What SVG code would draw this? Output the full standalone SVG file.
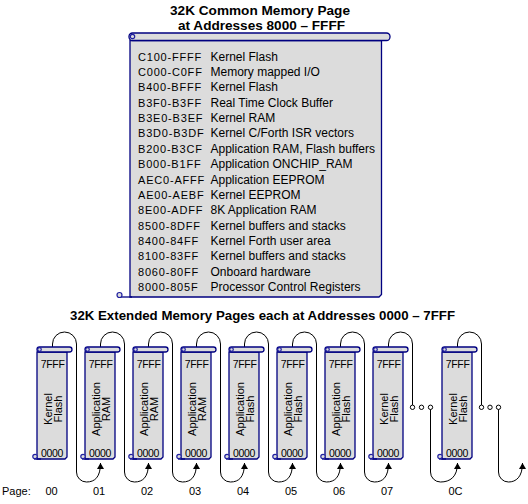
<svg xmlns="http://www.w3.org/2000/svg" xmlns:xlink="http://www.w3.org/1999/xlink" width="528" height="504" viewBox="0 0 528 504">
<style>
.title{font-family:"Liberation Sans",Arial,sans-serif;font-weight:bold;font-size:13.5px;fill:#000;text-anchor:middle}
.addr{font-family:"Liberation Sans",Arial,sans-serif;font-size:11px;letter-spacing:0.8px;fill:#000}
.desc{font-family:"Liberation Sans",Arial,sans-serif;font-size:12px;fill:#000}
.hex{font-family:"Liberation Sans",Arial,sans-serif;font-size:10.5px;letter-spacing:-0.3px;fill:#000}
.vt{font-family:"Liberation Sans",Arial,sans-serif;font-size:11px;fill:#000;text-anchor:middle}
.lbl{font-family:"Liberation Sans",Arial,sans-serif;font-size:11px;fill:#000}
.lblc{font-family:"Liberation Sans",Arial,sans-serif;font-size:11px;fill:#000;text-anchor:middle}
.scr{fill:#dcdcdc;stroke:#000080;stroke-width:1.3}
.curl{fill:#dcdcdc;stroke:#2020a0;stroke-width:1.2}
.conn{fill:none;stroke:#000;stroke-width:1}
.dot{fill:#fff;stroke:#000;stroke-width:1}
</style>
<defs>
<marker id="arr" markerWidth="8" markerHeight="8" refX="6" refY="3.5" orient="auto" markerUnits="userSpaceOnUse">
<path d="M0,0 L6,3.5 L0,7 Z" fill="#000"/>
</marker>
<g id="page">
<path class="scr" d="M0,352 V459 H28 L30,457 V352 Z"/>
<path class="scr" d="M-3,459 H4"/>
<circle class="curl" cx="-2" cy="456.5" r="2.2"/>
<rect class="scr" x="0" y="347" width="35" height="5" rx="2.5"/>
<circle class="curl" cx="2.5" cy="349.5" r="1.8"/>
<text class="hex" x="3.7" y="367.5">7FFF</text>
<text class="hex" x="4" y="456.5">0000</text>
</g>
</defs>

<g id="titles">
<text class="title" x="260" y="14.5" textLength="180" lengthAdjust="spacingAndGlyphs">32K Common Memory Page</text>
<text class="title" x="261.5" y="29.5" textLength="167" lengthAdjust="spacingAndGlyphs">at Addresses 8000 – FFFF</text>
<text class="title" x="262.5" y="319.5" textLength="385" lengthAdjust="spacingAndGlyphs">32K Extended Memory Pages each at Addresses 0000 – 7FFF</text>
</g>

<g id="common-page">
<path class="scr" d="M130,40.5 V297 H379 L381.5,294.5 V40.5 Z"/>
<path class="scr" d="M118,297 H132"/>
<circle class="curl" cx="119.5" cy="295" r="2.5"/>
<rect class="scr" x="129" y="33" width="261" height="7.5" rx="3.5"/>
<circle class="curl" cx="132.5" cy="36.5" r="2.2"/>
<g>
<text class="addr" x="138" y="60.5">C100-FFFF</text><text class="desc" x="210.5" y="60.5">Kernel Flash</text>
<text class="addr" x="138" y="75.9">C000-C0FF</text><text class="desc" x="210.5" y="75.9">Memory mapped I/O</text>
<text class="addr" x="138" y="91.3">B400-BFFF</text><text class="desc" x="210.5" y="91.3">Kernel Flash</text>
<text class="addr" x="138" y="106.6">B3F0-B3FF</text><text class="desc" x="210.5" y="106.6">Real Time Clock Buffer</text>
<text class="addr" x="138" y="122">B3E0-B3EF</text><text class="desc" x="210.5" y="122">Kernel RAM</text>
<text class="addr" x="138" y="137.4">B3D0-B3DF</text><text class="desc" x="210.5" y="137.4">Kernel C/Forth ISR vectors</text>
<text class="addr" x="138" y="152.8">B200-B3CF</text><text class="desc" x="210.5" y="152.8">Application RAM, Flash buffers</text>
<text class="addr" x="138" y="168.2">B000-B1FF</text><text class="desc" x="210.5" y="168.2">Application ONCHIP_RAM</text>
<text class="addr" x="138" y="183.5">AEC0-AFFF</text><text class="desc" x="210.5" y="183.5">Application EEPROM</text>
<text class="addr" x="138" y="198.9">AE00-AEBF</text><text class="desc" x="210.5" y="198.9">Kernel EEPROM</text>
<text class="addr" x="138" y="214.3">8E00-ADFF</text><text class="desc" x="210.5" y="214.3">8K Application RAM</text>
<text class="addr" x="138" y="229.7">8500-8DFF</text><text class="desc" x="210.5" y="229.7">Kernel buffers and stacks</text>
<text class="addr" x="138" y="245.1">8400-84FF</text><text class="desc" x="210.5" y="245.1">Kernel Forth user area</text>
<text class="addr" x="138" y="260.4">8100-83FF</text><text class="desc" x="210.5" y="260.4">Kernel buffers and stacks</text>
<text class="addr" x="138" y="275.8">8060-80FF</text><text class="desc" x="210.5" y="275.8">Onboard hardware</text>
<text class="addr" x="138" y="291.2">8000-805F</text><text class="desc" x="210.5" y="291.2">Processor Control Registers</text>
</g>
</g>

<g id="connectors">
<path class="conn" marker-end="url(#arr)" d="M52.5,347 V344 A12,12 0 0 1 76.5,344 V472 A10,10 0 0 0 86.5,482 C95,482 100.5,477 100.5,463"/>
<path class="conn" marker-end="url(#arr)" d="M100.5,347 V344 A12,12 0 0 1 124.5,344 V472 A10,10 0 0 0 134.5,482 C143,482 148.5,477 148.5,463"/>
<path class="conn" marker-end="url(#arr)" d="M148.5,347 V344 A12,12 0 0 1 172.5,344 V472 A10,10 0 0 0 182.5,482 C191,482 196.5,477 196.5,463"/>
<path class="conn" marker-end="url(#arr)" d="M196.5,347 V344 A12,12 0 0 1 220.5,344 V472 A10,10 0 0 0 230.5,482 C239,482 244.5,477 244.5,463"/>
<path class="conn" marker-end="url(#arr)" d="M244.5,347 V344 A12,12 0 0 1 268.5,344 V472 A10,10 0 0 0 278.5,482 C287,482 292.5,477 292.5,463"/>
<path class="conn" marker-end="url(#arr)" d="M292.5,347 V344 A12,12 0 0 1 316.5,344 V472 A10,10 0 0 0 326.5,482 C335,482 340.5,477 340.5,463"/>
<path class="conn" marker-end="url(#arr)" d="M340.5,347 V344 A12,12 0 0 1 364.5,344 V472 A10,10 0 0 0 374.5,482 C383,482 388.5,477 388.5,463"/>
<path class="conn" d="M388.5,347 V344 A12,12 0 0 1 412.5,344 V405.1"/>
<circle class="dot" cx="412.5" cy="407.3" r="2.2"/>
<circle class="dot" cx="421.5" cy="407.3" r="2.2"/>
<circle class="dot" cx="430.5" cy="407.3" r="2.2"/>
<path class="conn" marker-end="url(#arr)" d="M430.5,409.5 V472 A10,10 0 0 0 440.5,482 C450,482 457.5,477 457.5,463"/>
<path class="conn" d="M457.5,347 V344 A12,12 0 0 1 481.5,344 V405.1"/>
<circle class="dot" cx="481.5" cy="407.3" r="2.2"/>
<circle class="dot" cx="490" cy="407.3" r="2.2"/>
<circle class="dot" cx="498.5" cy="407.3" r="2.2"/>
<path class="conn" marker-end="url(#arr)" d="M498.5,409.5 V472 A10,10 0 0 0 508.5,482 C516,482 522.5,477 522.5,463"/>
</g>

<g id="page-00"><use xlink:href="#page" x="37"/><text class="vt" transform="rotate(-90)" x="-409" y="51.5">Kernel</text><text class="vt" transform="rotate(-90)" x="-409" y="61.5">Flash</text></g>
<g id="page-01"><use xlink:href="#page" x="85"/><text class="vt" transform="rotate(-90)" x="-409" y="99.5">Application</text><text class="vt" transform="rotate(-90)" x="-409" y="109.5">RAM</text></g>
<g id="page-02"><use xlink:href="#page" x="133"/><text class="vt" transform="rotate(-90)" x="-409" y="147.5">Application</text><text class="vt" transform="rotate(-90)" x="-409" y="157.5">RAM</text></g>
<g id="page-03"><use xlink:href="#page" x="181"/><text class="vt" transform="rotate(-90)" x="-409" y="195.5">Application</text><text class="vt" transform="rotate(-90)" x="-409" y="205.5">RAM</text></g>
<g id="page-04"><use xlink:href="#page" x="229"/><text class="vt" transform="rotate(-90)" x="-409" y="243.5">Application</text><text class="vt" transform="rotate(-90)" x="-409" y="253.5">Flash</text></g>
<g id="page-05"><use xlink:href="#page" x="277"/><text class="vt" transform="rotate(-90)" x="-409" y="291.5">Application</text><text class="vt" transform="rotate(-90)" x="-409" y="301.5">Flash</text></g>
<g id="page-06"><use xlink:href="#page" x="325"/><text class="vt" transform="rotate(-90)" x="-409" y="339.5">Application</text><text class="vt" transform="rotate(-90)" x="-409" y="349.5">Flash</text></g>
<g id="page-07"><use xlink:href="#page" x="373"/><text class="vt" transform="rotate(-90)" x="-409" y="387.5">Kernel</text><text class="vt" transform="rotate(-90)" x="-409" y="397.5">Flash</text></g>
<g id="page-0C"><use xlink:href="#page" x="442"/><text class="vt" transform="rotate(-90)" x="-409" y="456.5">Kernel</text><text class="vt" transform="rotate(-90)" x="-409" y="466.5">Flash</text></g>

<g id="page-labels">
<text class="lbl" x="2" y="495">Page:</text>
<text class="lblc" x="51.5" y="495">00</text>
<text class="lblc" x="99" y="495">01</text>
<text class="lblc" x="147" y="495">02</text>
<text class="lblc" x="195" y="495">03</text>
<text class="lblc" x="243" y="495">04</text>
<text class="lblc" x="291" y="495">05</text>
<text class="lblc" x="339" y="495">06</text>
<text class="lblc" x="387" y="495">07</text>
<text class="lblc" x="455.5" y="495">0C</text>
</g>
</svg>
